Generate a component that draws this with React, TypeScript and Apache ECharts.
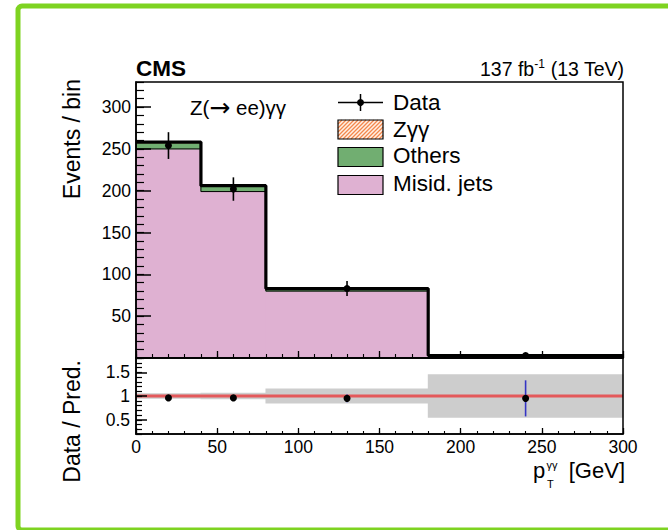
import React, { useEffect, useRef } from "react";
import * as echarts from "echarts";

// ---- data ----
const binEdges = [0, 40, 80, 180, 300];
const misidJets = [250, 199, 80, 2.3];
const others = [7, 6, 2, 0.4];
const zgg = [1.2, 1, 1, 0.3];
const dataX = [20, 60, 130, 240];
const dataY = [254, 202, 83, 3];
const dataErr = [16, 14, 9, 2.2];
const ratioY = [0.96, 0.96, 0.95, 0.95];
const ratioErr = [0.05, 0.06, 0.08, 0.38];
const bandErr = [0.05, 0.06, 0.15, 0.45];
const ratioTicks = [0.5, 1, 1.5];

const FONT = "Liberation Sans";
const PINK = "#dfb1d2";
const GREEN = "#71ae71";
const ORANGE = "#f6a070";

function rects(lo: number[], hi: number[]) {
  return binEdges.slice(0, -1).map((x0, i) => [x0, binEdges[i + 1], lo[i], hi[i]]);
}
function steps(vals: number[]) {
  const out: number[][] = [];
  vals.forEach((v, i) => {
    out.push([binEdges[i], v]);
    out.push([binEdges[i + 1], v]);
  });
  return out;
}

const zeros = misidJets.map(() => 0);
const cumOthers = misidJets.map((v, i) => v + others[i]);
const cumTotal = cumOthers.map((v, i) => v + zgg[i]);

function rectRender(color: string) {
  return (params: any, api: any) => {
    const p0 = api.coord([api.value(0), api.value(3)]);
    const p1 = api.coord([api.value(1), api.value(2)]);
    return {
      type: "rect",
      shape: { x: p0[0] - 0.4, y: p0[1] - 0.3, width: p1[0] - p0[0] + 0.8, height: p1[1] - p0[1] + 0.6 },
      style: { fill: color },
    };
  };
}

function pointRender(barColor: string) {
  return (params: any, api: any) => {
    const x = api.value(0), y = api.value(1), e = api.value(2);
    const c = api.coord([x, y]);
    const a = api.coord([x, y - e]);
    const b = api.coord([x, y + e]);
    return {
      type: "group",
      children: [
        { type: "line", shape: { x1: a[0], y1: a[1], x2: b[0], y2: b[1] }, style: { stroke: barColor, lineWidth: 1.6 } },
        { type: "circle", shape: { cx: c[0], cy: c[1], r: 3.5 }, style: { fill: "#000" } },
      ],
    };
  };
}

function hatch(x0: number, y0: number, w: number, h: number, step: number) {
  const out: any[] = [];
  const x1 = x0 + w, y1 = y0 + h;
  for (let c = x0 + y0 + step; c < x1 + y1; c += step) {
    const xa = Math.max(x0, c - y1);
    const xb = Math.min(x1, c - y0);
    if (xb > xa)
      out.push({ type: "line", shape: { x1: xa, y1: c - xa, x2: xb, y2: c - xb }, style: { stroke: "#f4874b", lineWidth: 1.3 }, z: 10 });
  }
  return out;
}

function txt(text: string, x: number, y: number, size: number, extra: any = {}, elExtra: any = {}) {
  return {
    type: "text",
    x,
    y,
    z: 10,
    ...elExtra,
    style: { text, fontSize: size, fontFamily: FONT, fill: "#000", align: "left", verticalAlign: "middle", ...extra },
  };
}

const tickLabel = { fontSize: 17.5, fontFamily: FONT, color: "#000" };
const AXZ = 20;

function buildOption(): any {
  const legendX = 338, legendW = 45, legendH = 19;
  const legendGraphic: any[] = [
    { type: "line", shape: { x1: legendX, y1: 102.5, x2: legendX + legendW, y2: 102.5 }, style: { stroke: "#000", lineWidth: 1.5 }, z: 10 },
    { type: "line", shape: { x1: legendX + legendW / 2, y1: 94, x2: legendX + legendW / 2, y2: 111 }, style: { stroke: "#000", lineWidth: 1.5 }, z: 10 },
    { type: "circle", shape: { cx: legendX + legendW / 2, cy: 102.5, r: 3.5 }, style: { fill: "#000" }, z: 10 },
    { type: "rect", shape: { x: legendX, y: 120, width: legendW, height: legendH }, style: { fill: "#fff1e6" }, z: 9 },
    ...hatch(legendX, 120, legendW, legendH, 4),
    { type: "rect", shape: { x: legendX, y: 120, width: legendW, height: legendH }, style: { fill: "none", stroke: "#000", lineWidth: 1.2 }, z: 11 },
    { type: "rect", shape: { x: legendX, y: 147.5, width: legendW, height: legendH }, style: { fill: GREEN, stroke: "#000", lineWidth: 1.2 }, z: 10 },
    { type: "rect", shape: { x: legendX, y: 175.5, width: legendW, height: legendH }, style: { fill: PINK, stroke: "#000", lineWidth: 1.2 }, z: 10 },
    txt("Data", 393, 102, 22.5),
    txt("Zγγ", 393, 129.5, 22.5),
    txt("Others", 393, 155.5, 22.5),
    txt("Misid. jets", 393, 183.5, 22.5),
  ];

  return {
    animation: false,
    backgroundColor: "#fff",
    textStyle: { fontFamily: FONT },
    grid: [
      { left: 136, top: 82, width: 487, height: 276, show: true, z: AXZ, borderColor: "#000", borderWidth: 1.5, backgroundColor: "transparent" },
      { left: 136, top: 358, width: 487, height: 76, show: true, z: AXZ, borderColor: "#000", borderWidth: 1.5, backgroundColor: "transparent" },
    ],
    xAxis: [
      {
        gridIndex: 0, type: "value", position: "bottom", min: 0, max: 300, interval: 50, z: AXZ,
        axisLine: { show: true, lineStyle: { color: "#000", width: 1.5 } },
        axisTick: { show: true, inside: true, length: 7, lineStyle: { color: "#000", width: 1.3 } },
        axisLabel: { show: false }, splitLine: { show: false },
      },
      {
        gridIndex: 0, type: "value", position: "bottom", min: 0, max: 300, interval: 10, z: AXZ,
        axisLine: { show: false },
        axisTick: { show: true, inside: true, length: 4, lineStyle: { color: "#000", width: 1.1 } },
        axisLabel: { show: false }, splitLine: { show: false },
      },
      {
        gridIndex: 1, type: "value", position: "bottom", min: 0, max: 300, interval: 50, z: AXZ,
        axisLine: { show: true, lineStyle: { color: "#000", width: 1.5 } },
        axisTick: { show: true, inside: true, length: 6, lineStyle: { color: "#000", width: 1.3 } },
        axisLabel: { show: true, margin: 4, showMinLabel: true, showMaxLabel: true, ...tickLabel },
        splitLine: { show: false },
      },
      {
        gridIndex: 1, type: "value", position: "bottom", min: 0, max: 300, interval: 10, z: AXZ,
        axisLine: { show: false },
        axisTick: { show: true, inside: true, length: 3, lineStyle: { color: "#000", width: 1.1 } },
        axisLabel: { show: false }, splitLine: { show: false },
      },
    ],
    yAxis: [
      {
        gridIndex: 0, type: "value", position: "left", min: 0, max: 330, interval: 50, z: AXZ,
        axisLine: { show: true, lineStyle: { color: "#000", width: 1.5 } },
        axisTick: { show: true, inside: true, length: 15, lineStyle: { color: "#000", width: 1.5 } },
        axisLabel: {
          show: true, margin: 5, showMaxLabel: false, ...tickLabel,
          formatter: (v: number) => (v === 0 || v > 300 ? "" : String(v)),
        },
        splitLine: { show: false },
      },
      {
        gridIndex: 0, type: "value", position: "left", min: 0, max: 330, interval: 10, z: AXZ,
        axisLine: { show: false },
        axisTick: { show: true, inside: true, length: 8, lineStyle: { color: "#000", width: 1.2 } },
        axisLabel: { show: false }, splitLine: { show: false },
      },
      {
        gridIndex: 1, type: "value", position: "left", min: 0.2, max: 1.8, z: AXZ,
        axisLine: { show: true, lineStyle: { color: "#000", width: 1.5 } },
        axisTick: { show: true, inside: true, length: 11, customValues: ratioTicks, lineStyle: { color: "#000", width: 1.5 } },
        axisLabel: { show: true, margin: 6, customValues: ratioTicks, ...tickLabel, formatter: (v: number) => String(v) },
        splitLine: { show: false },
      },
      {
        gridIndex: 1, type: "value", position: "left", min: 0.2, max: 1.8, interval: 0.1, z: AXZ,
        axisLine: { show: false },
        axisTick: { show: true, inside: true, length: 6, lineStyle: { color: "#000", width: 1.2 } },
        axisLabel: { show: false }, splitLine: { show: false },
      },
    ],
    series: [
      {
        type: "custom", name: "Misid. jets", xAxisIndex: 0, yAxisIndex: 0, silent: true, z: 1,
        renderItem: rectRender(PINK), encode: { x: [0, 1], y: [2, 3] }, data: rects(zeros, misidJets),
      },
      {
        type: "custom", name: "Others", xAxisIndex: 0, yAxisIndex: 0, silent: true, z: 1,
        renderItem: rectRender(GREEN), encode: { x: [0, 1], y: [2, 3] }, data: rects(misidJets, cumOthers),
      },
      {
        type: "custom", name: "Zγγ", xAxisIndex: 0, yAxisIndex: 0, silent: true, z: 1,
        renderItem: rectRender(ORANGE), encode: { x: [0, 1], y: [2, 3] }, data: rects(cumOthers, cumTotal),
      },
      {
        type: "line", xAxisIndex: 0, yAxisIndex: 0, silent: true, z: 2, symbol: "none", showSymbol: false,
        lineStyle: { color: "#000", width: 1 }, data: steps(misidJets),
      },
      {
        type: "line", xAxisIndex: 0, yAxisIndex: 0, silent: true, z: 3, symbol: "none", showSymbol: false,
        lineStyle: { color: "#000", width: 3.2 }, data: steps(cumTotal),
      },
      {
        type: "custom", name: "Data", xAxisIndex: 0, yAxisIndex: 0, silent: true, z: 5,
        renderItem: pointRender("#000"), encode: { x: 0, y: 1 },
        data: dataX.map((x, i) => [x, dataY[i], dataErr[i]]),
      },
      {
        type: "custom", name: "band", xAxisIndex: 2, yAxisIndex: 2, silent: true, z: 1,
        renderItem: rectRender("#cdcdcd"), encode: { x: [0, 1], y: [2, 3] },
        data: rects(bandErr.map((e) => 1 - e), bandErr.map((e) => 1 + e)),
      },
      {
        type: "line", xAxisIndex: 2, yAxisIndex: 2, silent: true, z: 2, symbol: "none", showSymbol: false,
        lineStyle: { color: "#e4595b", width: 3 }, data: [[binEdges[0], 1], [binEdges[binEdges.length - 1], 1]],
      },
      {
        type: "custom", name: "ratio", xAxisIndex: 2, yAxisIndex: 2, silent: true, z: 5,
        renderItem: pointRender("#3434c4"), encode: { x: 0, y: 1 },
        data: dataX.map((x, i) => [x, ratioY[i], ratioErr[i]]),
      },
    ],
    graphic: [
      {
        type: "rect", z: 0, shape: { x: 18, y: 6, width: 670, height: 524, r: 4 },
        style: { fill: "none", stroke: "#7ed321", lineWidth: 5 },
      },
      txt("CMS", 136, 68.5, 22.5, { fontWeight: "bold" }),
      {
        type: "text", x: 624, y: 69, z: 10,
        style: {
          text: "{a|137 fb}{s|-1}{a| (13 TeV)}", align: "right", verticalAlign: "middle", fill: "#000",
          rich: {
            a: { fontSize: 19.5, fontFamily: FONT, lineHeight: 23, fill: "#000" },
            s: { fontSize: 12, fontFamily: FONT, verticalAlign: "top", lineHeight: 12, fill: "#000" },
          },
        },
      },
      {
        type: "text", x: 190, y: 107, z: 10,
        style: {
          text: "{a|Z(}{b|→}{a| ee)γγ}", align: "left", verticalAlign: "middle", fill: "#000",
          rich: {
            a: { fontSize: 20.5, fontFamily: FONT, lineHeight: 24, fill: "#000" },
            b: { fontSize: 25, fontFamily: "DejaVu Sans", lineHeight: 24, fill: "#000" },
          },
        },
      },
      txt("Events / bin", 72, 79, 23, { align: "right" }, { rotation: Math.PI / 2 }),
      txt("Data / Pred.", 72, 360, 23, { align: "right" }, { rotation: Math.PI / 2 }),
      txt("[GeV]", 625, 470, 22, { align: "right" }),
      txt("p", 533, 470, 22),
      txt("γγ", 546.5, 465, 11),
      txt("T", 547, 484, 11),
      ...legendGraphic,
    ],
  };
}

export default function App() {
  const ref = useRef<HTMLDivElement>(null);
  useEffect(() => {
    if (!ref.current) return;
    const chart = echarts.init(ref.current, undefined, { renderer: "svg" });
    chart.setOption(buildOption());
    return () => chart.dispose();
  }, []);
  return <div ref={ref} style={{ position: "absolute", left: 0, top: 0, width: 668, height: 530 }} />;
}
